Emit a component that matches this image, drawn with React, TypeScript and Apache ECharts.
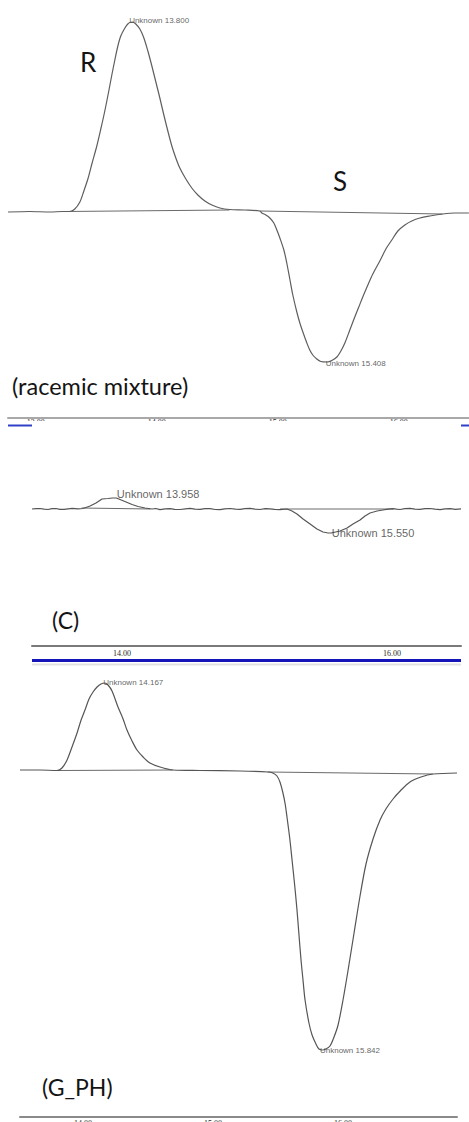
import React, { useEffect, useRef } from "react";
import * as echarts from "echarts";

// ---- Trace 1: racemic mixture (retention time in min, detector signal) ----
const racemicTime = [
  12.77, 12.95, 13.12, 13.22, 13.281, 13.322, 13.364, 13.397, 13.43, 13.463, 13.504, 13.537,
  13.57, 13.603, 13.628, 13.653, 13.678, 13.702, 13.736, 13.76, 13.777, 13.8, 13.826, 13.86,
  13.893, 13.926, 13.959, 13.992, 14.025, 14.058, 14.091, 14.124, 14.157, 14.19, 14.24, 14.289,
  14.339, 14.397, 14.455, 14.521, 14.603, 14.727, 14.851, 14.868, 14.901, 14.934, 14.967, 14.992,
  15.017, 15.05, 15.074, 15.099, 15.124, 15.157, 15.182, 15.207, 15.24, 15.264, 15.289, 15.322,
  15.355, 15.408, 15.446, 15.488, 15.521, 15.554, 15.595, 15.636, 15.669, 15.702, 15.744, 15.785,
  15.843, 15.893, 15.942, 15.992, 16.05, 16.107, 16.174, 16.256, 16.364, 16.463, 16.579,
];
const racemicSignal = [
  0, 0.5, 0, 0.5, 0.5, 3, 10, 21, 33, 48, 66, 83,
  101, 121, 137, 152, 166, 176, 184, 188, 189.5, 190, 188, 183,
  174, 161, 146, 130, 114, 97, 81, 66, 54, 44, 33, 24,
  17, 11, 7, 4, 2.5, 2, 1, -1, -3, -6, -11, -18,
  -26, -38, -51, -67, -83, -100, -111, -120, -131, -138, -143, -147,
  -149.5, -150, -148.5, -145, -139, -131, -118, -105, -95, -85, -73, -62,
  -49, -37, -28, -19, -13, -9, -6, -4, -2, -1, -1,
];
const racemicPeakTime = [13.8, 15.408];
const racemicPeakSignal = [190, -150];
const racemicBaselines = [
  [[13.24, 0.5], [14.6, 2]],
  [[14.85, 1], [16.36, -2]],
];
const racemicTicks = [13, 14, 15, 16];

// ---- Trace 2: sample (C) ----
const sampleCTime = [
  13.333, 13.363, 13.393, 13.422, 13.452, 13.482, 13.511, 13.54, 13.57, 13.6, 13.63, 13.674,
  13.711, 13.763, 13.807, 13.852, 13.896, 13.93, 13.958, 13.985, 14.03, 14.074, 14.119, 14.17,
  14.222, 14.25, 14.281, 14.32, 14.356, 14.39, 14.43, 14.47, 14.504, 14.54, 14.578, 14.615,
  14.652, 14.69, 14.726, 14.76, 14.8, 14.84, 14.874, 14.91, 14.948, 14.985, 15.022, 15.06,
  15.096, 15.13, 15.17, 15.222, 15.259, 15.296, 15.341, 15.393, 15.444, 15.489, 15.526, 15.55,
  15.615, 15.667, 15.711, 15.763, 15.8, 15.837, 15.889, 15.933, 15.97, 16.007, 16.033, 16.059,
  16.096, 16.133, 16.17, 16.207, 16.244, 16.281, 16.318, 16.356, 16.393, 16.43, 16.47, 16.511,
];
const sampleCSignal = [
  0, 0.4, 0.5, -0.2, -0.5, 0.3, 0.5, -0.4, -0.3, 0.2, 0.6, 0.2,
  0.5, 3, 6, 10, 10.5, 11, 11, 9.5, 7, 4.5, 2.5, 1,
  0, 0.5, -0.6, 0.1, 0.4, -0.3, -0.5, 0.2, 0.6, -0.2, -0.4, 0.4,
  0.3, -0.5, -0.7, 0.1, 0.5, -0.2, -0.3, 0.4, 0.6, -0.1, -0.5, 0.3,
  0.2, -0.4, -0.6, 0, -2, -5, -10, -15, -20, -23, -24, -24,
  -22, -19, -15, -11, -7, -4, -2, -1, -0.2, 0.3, -0.2, -0.5,
  0.4, 0.6, -0.1, -0.3, 0.3, 0.5, -0.2, -0.6, 0.1, 0.4, -0.3, 0.2,
];
const sampleCPeakTime = [13.958, 15.55];
const sampleCPeakSignal = [11, -24];
const sampleCBaselines = [
  [[13.7, 1], [14.21, 0]],
  [[15.17, 0], [16.01, 0]],
];
const sampleCTicks = [14, 16];

// ---- Trace 3: sample (G_PH) ----
const gphTime = [
  13.515, 13.669, 13.8, 13.838, 13.877, 13.915, 13.954, 13.985, 14.015, 14.046, 14.077, 14.108,
  14.138, 14.167, 14.192, 14.223, 14.269, 14.308, 14.338, 14.377, 14.415, 14.462, 14.515, 14.592,
  14.692, 14.9, 15.208, 15.423, 15.46, 15.492, 15.515, 15.538, 15.555, 15.569, 15.59, 15.608,
  15.628, 15.646, 15.662, 15.677, 15.693, 15.708, 15.738, 15.762, 15.792, 15.815, 15.842, 15.869,
  15.9, 15.931, 15.962, 16.0, 16.038, 16.085, 16.131, 16.177, 16.231, 16.285, 16.33, 16.385,
  16.44, 16.515, 16.6, 16.692, 16.877,
];
const gphSignal = [
  1, 1, 0.5, 3, 11, 24, 38, 51, 61, 72, 79, 84,
  87, 88, 86, 80, 64, 52, 41, 30, 21, 14, 8, 4,
  1, 0.5, 0, -1, -2, -5, -11, -22, -33, -46, -67, -89,
  -114, -139, -165, -189, -210, -229, -252, -264, -273, -278, -279, -278,
  -275, -266, -254, -229, -200, -162, -125, -93, -68, -49, -38, -28,
  -20, -11, -6, -3, -2,
];
const gphPeakTime = [14.167, 15.842];
const gphPeakSignal = [88, -279];
const gphBaselines = [
  [[13.8, 0.5], [14.69, 1]],
  [[15.42, -1], [16.69, -3]],
];
const gphTicks = [14, 15, 16];

const zip = (a: number[], b: number[]) => a.map((v, i) => [v, b[i]]);

type Panel = {
  time: number[];
  signal: number[];
  peakTime: number[];
  peakSignal: number[];
  baselines: number[][][];
  ticks: number[];
  grid: { left: number; top: number; width: number; height: number };
  xRange: [number, number];
  yRange: [number, number];
  lineColor: string;
  axisColor: string;
  labelFont: number;
  labelOffsets: number[][];
  tickMargin: number;
  smooth: number | boolean;
};

const panels: Panel[] = [
  {
    time: racemicTime,
    signal: racemicSignal,
    peakTime: racemicPeakTime,
    peakSignal: racemicPeakSignal,
    baselines: racemicBaselines,
    ticks: racemicTicks,
    grid: { left: 8, top: 0, width: 461, height: 417.5 },
    xRange: [12.77, 16.58],
    yRange: [-205.5, 212],
    lineColor: "#5e5e5e",
    axisColor: "#a8a8a8",
    labelFont: 8,
    labelOffsets: [[-4, -2], [-2, 1]],
    tickMargin: 1,
    smooth: 0.3,
  },
  {
    time: sampleCTime,
    signal: sampleCSignal,
    peakTime: sampleCPeakTime,
    peakSignal: sampleCPeakSignal,
    baselines: sampleCBaselines,
    ticks: sampleCTicks,
    grid: { left: 32, top: 425, width: 429, height: 221 },
    xRange: [13.333, 16.511],
    yRange: [-137, 84],
    lineColor: "#555555",
    axisColor: "#7a7a7a",
    labelFont: 11,
    labelOffsets: [[0, -4], [0, 0]],
    tickMargin: 3,
    smooth: false,
  },
  {
    time: gphTime,
    signal: gphSignal,
    peakTime: gphPeakTime,
    peakSignal: gphPeakSignal,
    baselines: gphBaselines,
    ticks: gphTicks,
    grid: { left: 20, top: 670, width: 437, height: 447 },
    xRange: [13.515, 16.877],
    yRange: [-346, 101],
    lineColor: "#555555",
    axisColor: "#8a8a8a",
    labelFont: 8,
    labelOffsets: [[-2, -1], [-3, 0]],
    tickMargin: 2,
    smooth: 0.3,
  },
];

const bigText = (text: string, x: number, y: number, size: number) => ({
  type: "text",
  x,
  y,
  z: 120,
  style: {
    text,
    fill: "#141414",
    font: `${size}px Lato`,
    align: "left",
    verticalAlign: "middle",
  },
});

export default function App() {
  const ref = useRef<HTMLDivElement>(null);

  useEffect(() => {
    if (!ref.current) return;
    const chart = echarts.init(ref.current, undefined, { renderer: "svg" });

    const grids = panels.map((p) => ({ ...p.grid, containLabel: false, outerBoundsMode: "none" }));
    const xAxes = panels.map((p, i) => ({
      type: "value",
      gridIndex: i,
      min: p.xRange[0],
      max: p.xRange[1],
      position: "bottom",
      axisLine: { show: true, onZero: false, lineStyle: { color: p.axisColor, width: 2 } },
      axisTick: { show: false },
      splitLine: { show: false },
      axisLabel: {
        customValues: p.ticks,
        formatter: (v: number) => v.toFixed(2),
        fontFamily: "Liberation Serif",
        fontSize: 8,
        color: "#2a2a2a",
        margin: p.tickMargin,
        verticalAlign: "top",
      },
    }));
    const yAxes = panels.map((p, i) => ({
      type: "value",
      gridIndex: i,
      min: p.yRange[0],
      max: p.yRange[1],
      show: false,
    }));

    const series: any[] = [];
    panels.forEach((p, i) => {
      series.push({
        type: "line",
        xAxisIndex: i,
        yAxisIndex: i,
        data: zip(p.time, p.signal),
        showSymbol: false,
        smooth: p.smooth,
        lineStyle: { color: p.lineColor, width: 1.2 },
        z: 3,
      });
      p.baselines.forEach((seg) => {
        series.push({
          type: "line",
          xAxisIndex: i,
          yAxisIndex: i,
          data: seg,
          showSymbol: false,
          lineStyle: { color: "#6a6a6a", width: 1 },
          z: 2,
        });
      });
      series.push({
        type: "scatter",
        xAxisIndex: i,
        yAxisIndex: i,
        data: zip(p.peakTime, p.peakSignal).map((d, k) => ({
          value: d,
          label: { offset: p.labelOffsets[k] },
        })),
        symbolSize: 1,
        itemStyle: { color: "rgba(0,0,0,0)" },
        label: {
          show: true,
          position: "right",
          distance: 0,
          formatter: (prm: any) => `Unknown ${prm.value[0].toFixed(3)}`,
          fontFamily: "Liberation Sans",
          fontSize: p.labelFont,
          color: "#3a3a3a",
        },
        z: 4,
      });
    });

    chart.setOption({
      animation: false,
      backgroundColor: "#ffffff",
      grid: grids,
      xAxis: xAxes,
      yAxis: yAxes,
      series,
      graphic: [
        // strip between the first and second trace, hiding the lower half of the tick labels
        { type: "rect", z: 100, shape: { x: 0, y: 421, width: 469, height: 46 }, style: { fill: "#ffffff" } },
        { type: "line", z: 101, shape: { x1: 8, y1: 425.5, x2: 32, y2: 425.5 }, style: { stroke: "#3040c8", lineWidth: 2 } },
        { type: "line", z: 101, shape: { x1: 461, y1: 425.5, x2: 469, y2: 425.5 }, style: { stroke: "#3040c8", lineWidth: 2 } },
        // frame under the second trace
        { type: "line", z: 101, shape: { x1: 32, y1: 660.5, x2: 461, y2: 660.5 }, style: { stroke: "#1414b8", lineWidth: 3 } },
        { type: "line", z: 101, shape: { x1: 32, y1: 664.5, x2: 461, y2: 664.5 }, style: { stroke: "#e2e2e2", lineWidth: 2 } },
        bigText("R", 80, 62, 26),
        bigText("S", 333, 181, 26),
        bigText("(racemic mixture)", 12, 386, 23.5),
        bigText("(C)", 52, 620, 23),
        bigText("(G_PH)", 42, 1087, 23),
      ],
    });

    return () => chart.dispose();
  }, []);

  return (
    <div
      ref={ref}
      style={{ position: "absolute", left: 0, top: 0, width: 469, height: 1122, background: "#fff" }}
    />
  );
}
